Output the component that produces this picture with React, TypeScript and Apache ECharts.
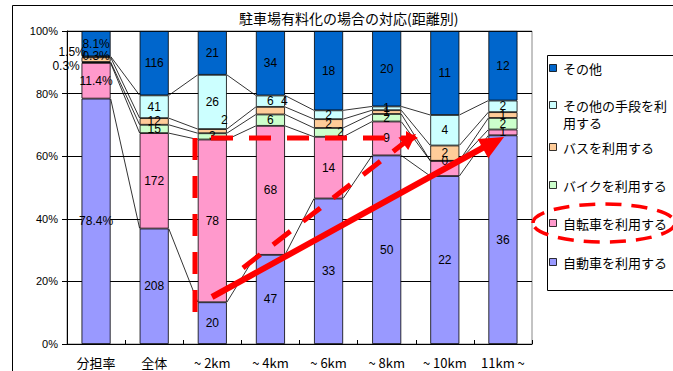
import { useEffect, useRef } from 'react';
import * as echarts from 'echarts';

const categories = ['分担率', '全体', '~ 2km', '~ 4km', '~ 6km', '~ 8km', '~ 10km', '11km ~'];
const seriesNames = ['自動車を利用する', '自転車を利用する', 'バイクを利用する', 'バスを利用する', 'その他の手段を利用する', 'その他'];
// 分担率 column (percent), same series order
const shareRate = [78.4, 11.4, 0.3, 1.5, 0.3, 8.1];
// counts for 全体, ~2km ... 11km~
const carCounts = [208, 20, 47, 33, 50, 22, 36];
const bicycleCounts = [172, 78, 68, 14, 9, 2, 1];
const motorbikeCounts = [15, 3, 6, 2, 2, 0, 2];
const busCounts = [12, 2, 4, 2, 1, 2, 1];
const otherMeansCounts = [41, 26, 6, 2, 1, 4, 2];
const otherCounts = [116, 21, 34, 18, 20, 11, 12];
const yTickValues = [0, 20, 40, 60, 80, 100];

const colors = ['#9999FF', '#FF99CC', '#CCFFCC', '#FFCC99', '#CCFFFF', '#0066CC'];
const FONT_LATIN = '"Liberation Sans", Arial, "Noto Sans CJK JP", sans-serif';
const FONT_JP = '"Noto Sans CJK JP", "Liberation Sans", sans-serif';

// label tweaks [seriesIndex][columnIndex] -> offset, or 'hide'
const labelTweaks: Record<string, number[] | 'hide'> = {
  '2-0': [-30, 4],
  '3-0': [-24, -8],
  '4-0': [0, -1],
  '3-2': [12, -11],
  '3-3': [14, -10],
  '2-4': [12, 0],
  '1-6': 'hide',
};

export default function App() {
  const ref = useRef<HTMLDivElement>(null);
  useEffect(() => {
    if (!ref.current) return;
    const chart = echarts.init(ref.current, null, { renderer: 'svg' });
    const counts = [carCounts, bicycleCounts, motorbikeCounts, busCounts, otherMeansCounts, otherCounts];
    const totals = carCounts.map((_, j) => counts.reduce((s, arr) => s + arr[j], 0));
    const pct = counts.map((arr, s) => [shareRate[s], ...arr.map((v, j) => (v / totals[j]) * 100)]);
    const labelText = (s: number, c: number) => (c === 0 ? shareRate[s].toFixed(1) + '%' : String(counts[s][c - 1]));

    const barSeries = seriesNames.map((name, s) => ({
      name,
      type: 'bar',
      stack: 'total',
      barWidth: '50%',
      itemStyle: { color: colors[s], borderColor: '#000', borderWidth: 0.8 },
      data: pct[s].map((v, c) => {
        const tw = labelTweaks[`${s}-${c}`];
        const item: any = { value: v };
        if (tw === 'hide') item.label = { show: false };
        else if (tw) item.label = { offset: tw };
        return item;
      }),
      label: {
        show: true,
        position: 'inside',
        color: '#000',
        fontSize: 12,
        fontFamily: FONT_LATIN,
        formatter: (p: any) => labelText(s, p.dataIndex),
      },
      z: 3,
    }));

    // series lines between adjacent columns
    const cum = pct.map((_, s) => categories.map((__, c) => pct.slice(0, s + 1).reduce((a, arr) => a + arr[c], 0)));
    const lineData: number[][] = [];
    for (let c = 0; c < categories.length - 1; c++) {
      for (let s = 0; s < seriesNames.length - 1; s++) {
        lineData.push([c, cum[s][c], cum[s][c + 1]]);
      }
    }
    const seriesLines = {
      type: 'custom',
      silent: true,
      encode: { x: 0, y: [1, 2] },
      data: lineData,
      z: 2,
      renderItem: (_params: any, api: any) => {
        const c = api.value(0);
        const p1 = api.coord([c, api.value(1)]);
        const p2 = api.coord([c + 1, api.value(2)]);
        const bw = api.size([1, 0])[0] * 0.5;
        return {
          type: 'line',
          shape: { x1: p1[0] + bw / 2, y1: p1[1], x2: p2[0] - bw / 2, y2: p2[1] },
          style: { stroke: '#000', lineWidth: 0.8 },
        };
      },
    };

    // legend (drawn as graphics to match Excel's wrapped legend)
    const legendOrder = [5, 4, 3, 2, 1, 0];
    const legendY = [68, 105, 147, 185, 223, 262];
    const legendEls: any[] = [
      { type: 'rect', shape: { x: 547.5, y: 55.5, width: 200, height: 235 }, style: { fill: '#fff', stroke: '#000', lineWidth: 1 } },
    ];
    legendOrder.forEach((s, i) => {
      const y = legendY[i];
      legendEls.push({ type: 'rect', shape: { x: 549.5, y: y - 3.5, width: 7, height: 7 }, style: { fill: colors[s], stroke: '#000', lineWidth: 0.8 }, z: 5 });
      const name = seriesNames[s];
      const txt = name.length > 8 ? name.slice(0, 8) + '\n' + name.slice(8) : name;
      legendEls.push({
        type: 'text', x: 563, y: y - 8, z: 5,
        style: { text: txt, fontSize: 13, fontFamily: FONT_JP, fill: '#000', lineHeight: 17, verticalAlign: 'top' },
      });
    });

    const red = '#FF0000';
    const arrowHead = (x1: number, y1: number, x2: number, y2: number, len: number, hw: number) => {
      const dx = x2 - x1, dy = y2 - y1; const L = Math.hypot(dx, dy);
      const ux = dx / L, uy = dy / L; const px = -uy, py = ux;
      const bx = x2 - ux * len, by = y2 - uy * len;
      return [[x2, y2], [bx + px * hw, by + py * hw], [bx - px * hw, by - py * hw]];
    };
    const annotations: any[] = [
      { type: 'polyline', z: 100, shape: { points: [[195, 312], [195, 138], [406, 138]] }, style: { stroke: red, lineWidth: 5, lineDash: [22, 16], fill: 'none' } },
      { type: 'polygon', z: 100, shape: { points: arrowHead(395, 138, 418, 138, 12, 7) }, style: { fill: red } },
      { type: 'line', z: 100, shape: { x1: 243, y1: 268, x2: 404, y2: 143 }, style: { stroke: red, lineWidth: 5, lineDash: [22, 16] } },
      { type: 'polygon', z: 100, shape: { points: arrowHead(243, 268, 416, 134, 16, 8) }, style: { fill: red } },
      { type: 'line', z: 100, shape: { x1: 212, y1: 297, x2: 486, y2: 146 }, style: { stroke: red, lineWidth: 6 } },
      { type: 'polygon', z: 100, shape: { points: arrowHead(212, 297, 504, 137, 24, 11) }, style: { fill: red } },
      { type: 'ellipse', z: 100, shape: { cx: 604, cy: 223, rx: 71, ry: 19 }, style: { fill: 'none', stroke: red, lineWidth: 3.5, lineDash: [16, 10] } },
    ];

    chart.setOption({
      animation: false,
      backgroundColor: '#fff',
      title: {
        text: '駐車場有料化の場合の対応(距離別)',
        left: 234,
        top: 6,
        textStyle: { fontSize: 14, fontWeight: 'normal', fontFamily: FONT_JP, color: '#000' },
      },
      grid: { left: 67, top: 31, right: 141, bottom: 27, show: true, borderColor: '#888', borderWidth: 1 },
      xAxis: {
        type: 'category',
        data: categories,
        axisLine: { lineStyle: { color: '#000', width: 1 } },
        axisTick: { show: true, inside: true, length: 4, lineStyle: { color: '#000' } },
        axisLabel: { interval: 0, color: '#000', fontSize: 13, fontFamily: FONT_JP, margin: 12 },
      },
      yAxis: {
        type: 'value',
        min: yTickValues[0],
        max: yTickValues[yTickValues.length - 1],
        interval: yTickValues[1] - yTickValues[0],
        axisLine: { show: true, lineStyle: { color: '#000' } },
        axisTick: { show: true, length: 5, lineStyle: { color: '#000' } },
        axisLabel: { formatter: '{value}%', color: '#000', fontSize: 11, fontFamily: FONT_LATIN, margin: 9 },
        splitLine: { lineStyle: { color: '#000', width: 1 } },
      },
      series: [...barSeries, seriesLines],
      graphic: [
        { type: 'rect', z: 0, silent: true, shape: { x: 12.5, y: 5.5, width: 700, height: 400 }, style: { fill: 'none', stroke: '#000', lineWidth: 1 } },
        ...legendEls,
        ...annotations,
      ],
    });
    return () => chart.dispose();
  }, []);
  return <div ref={ref} style={{ position: 'absolute', left: 0, top: 0, width: 673, height: 371 }} />;
}
